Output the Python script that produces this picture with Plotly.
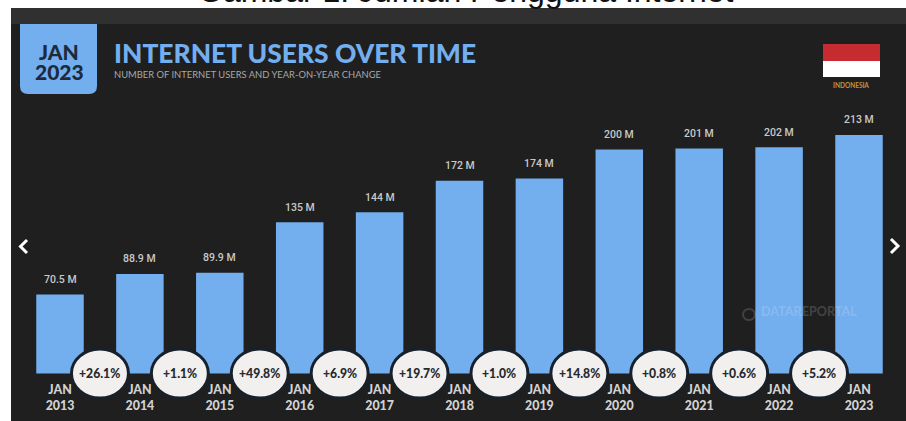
import plotly.graph_objects as go

W, H = 906, 421

# Data
years = [2013, 2014, 2015, 2016, 2017, 2018, 2019, 2020, 2021, 2022, 2023]
users_m = [70.5, 88.9, 89.9, 135, 144, 172, 174, 200, 201, 202, 213]
value_labels = ["70.5 M", "88.9 M", "89.9 M", "135 M", "144 M", "172 M",
                "174 M", "200 M", "201 M", "202 M", "213 M"]
yoy_labels = ["+26.1%", "+1.1%", "+49.8%", "+6.9%", "+19.7%", "+1.0%",
              "+14.8%", "+0.8%", "+0.6%", "+5.2%"]
tick_labels = [f"JAN<br>{y}" for y in years]

BLUE = "#73aeee"
PANEL = "#1f1f1f"

# Axis scales: one year is 79.9 px, one million users is 1.12 px
PX_PER_YEAR = 79.9
PX_PER_M = 1.12
LEFT_YEAR_PX = 60
BASELINE_PX = 373.5


def px(x):
    return x / W


def py(y):
    return 1 - y / H


def rect(x0, y0, x1, y1, color, layer="below"):
    return dict(type="rect", xref="paper", yref="paper", x0=px(x0), x1=px(x1),
                y0=py(y1), y1=py(y0), fillcolor=color, line_width=0, layer=layer)


def polyline(points, color, width):
    d = "M " + " L ".join(f"{px(a):.5f},{py(b):.5f}" for a, b in points)
    return dict(type="path", xref="paper", yref="paper", path=d,
                line=dict(color=color, width=width), layer="above")


def label(x, y, text, size, color, family="Lato", xanchor="center", yanchor="middle", weight="normal"):
    return dict(xref="paper", yref="paper", x=px(x), y=py(y), text=text, showarrow=False,
                xanchor=xanchor, yanchor=yanchor, borderpad=0,
                font=dict(size=size, color=color, family=family, weight=weight))


fig = go.Figure(
    go.Bar(x=years, y=users_m, width=47.5 / PX_PER_YEAR, marker=dict(color=BLUE, line_width=0),
           hoverinfo="skip")
)

shapes = [
    rect(11, 8, W, H, PANEL),
    rect(11, 8, W, 24, "#303030"),
    # Date tile with rounded lower corners
    dict(type="path", xref="paper", yref="paper", fillcolor=BLUE, line_width=0, layer="below",
         path=(f"M {px(20)},{py(24)} L {px(97)},{py(24)} L {px(97)},{py(86)} "
               f"Q {px(97)},{py(94)} {px(89)},{py(94)} L {px(28)},{py(94)} "
               f"Q {px(20)},{py(94)} {px(20)},{py(86)} Z")),
    # Flag
    rect(823, 44, 880, 61, "#c62c2f"),
    rect(823, 61, 880, 77, "#ffffff"),
    # Carousel arrows
    polyline([(27, 240), (20.5, 246.5), (27, 253)], "#ffffff", 3),
    polyline([(891, 239), (898, 246), (891, 253)], "#ffffff", 3),
    # Watermark mark
    dict(type="circle", xref="paper", yref="paper", x0=px(743), x1=px(755), y0=py(320), y1=py(309),
         line=dict(color="rgba(255,255,255,0.15)", width=2), layer="above"),
]

# Year-on-year change badges sit on the baseline between consecutive bars
for i in range(len(yoy_labels)):
    shapes.append(dict(type="circle", xref="x", yref="y", xsizemode="pixel", ysizemode="pixel",
                       xanchor=years[i] + 0.5, yanchor=0, x0=-28.5, x1=28.5, y0=-24.5, y1=24.5,
                       fillcolor="#f1f0ee", line=dict(color="#182029", width=3), layer="above"))

annotations = [
    dict(xref="paper", yref="paper", x=px(466), y=py(10), text="Gambar 1. Jumlah Pengguna Internet",
         showarrow=False, xanchor="center", yanchor="bottom", borderpad=0,
         font=dict(size=32, color="#111111", family="Liberation Sans")),
    label(59, 52, "JAN", 21, "#1c2a3c", weight=900),
    label(59, 71, "2023", 21, "#1c2a3c", weight=900),
    label(113, 53, "INTERNET USERS OVER TIME", 26.4, "#73aeee", xanchor="left", weight=900),
    label(113, 74, "NUMBER OF INTERNET USERS AND YEAR-ON-YEAR CHANGE", 9.4, "#a8a8a8", xanchor="left"),
    label(851, 85, "INDONESIA", 6.5, "#c8923c", weight="bold"),
    label(760, 311, "DATAREPORTAL", 12.6, "rgba(255,255,255,0.18)", xanchor="left", weight="bold"),
]

for year, value, text in zip(years, users_m, value_labels):
    annotations.append(dict(x=year, y=value, xref="x", yref="y", text=text, showarrow=False,
                            yanchor="middle", yshift=15,
                            font=dict(size=10.5, color="#c9c9c9", family="Roboto", weight=500)))

for year, text in zip(years, yoy_labels):
    annotations.append(dict(x=year + 0.5, y=0, xref="x", yref="y", text=text, showarrow=False,
                            yanchor="middle",
                            font=dict(size=12.2, color="#26292d", family="Lato", weight=900)))

fig.update_layout(
    width=W, height=H,
    margin=dict(l=0, r=0, t=0, b=0),
    paper_bgcolor="#ffffff",
    plot_bgcolor="rgba(0,0,0,0)",
    showlegend=False,
    shapes=shapes,
    annotations=annotations,
    xaxis=dict(
        range=[years[0] - LEFT_YEAR_PX / PX_PER_YEAR,
               years[0] + (W - LEFT_YEAR_PX) / PX_PER_YEAR],
        tickmode="array", tickvals=years, ticktext=tick_labels,
        tickfont=dict(size=12.4, color="#d2d2d2", family="Lato", weight=900),
        ticks="", ticklabelstandoff=7, showgrid=False, zeroline=False, showline=False,
        anchor="free", position=(H - BASELINE_PX) / H, tickangle=0,
    ),
    yaxis=dict(
        range=[-(H - BASELINE_PX) / PX_PER_M, BASELINE_PX / PX_PER_M],
        visible=False, showgrid=False, zeroline=False,
    ),
)

fig.write_html("out.html", config=dict(displayModeBar=False))
